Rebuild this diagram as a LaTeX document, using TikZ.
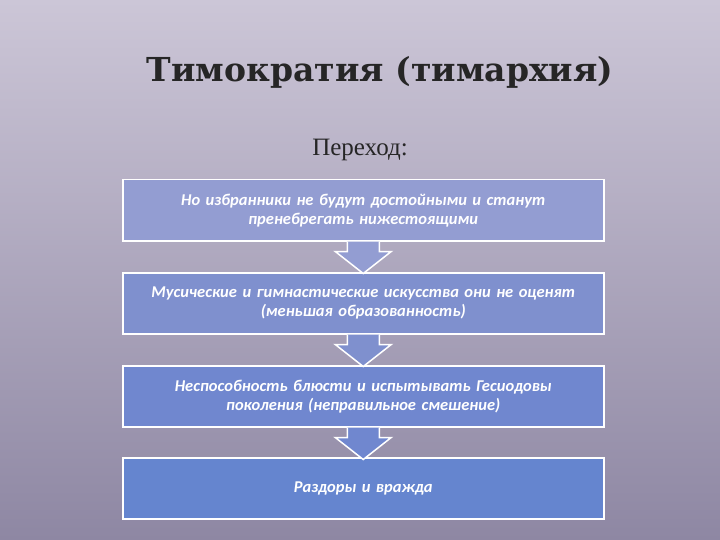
\documentclass[tikz,border=0pt]{standalone}
\usepackage{fontspec}
\setmainfont{Carlito}
\newfontfamily\titlefont{DejaVu Serif}
\newfontfamily\subfont{Liberation Serif}
\definecolor{bgtop}{HTML}{CCC6D7}
\definecolor{bgbot}{HTML}{8E87A3}
\definecolor{bxa}{HTML}{939DD2}
\definecolor{bxb}{HTML}{7F90CE}
\definecolor{bxc}{HTML}{7087CF}
\definecolor{bxd}{HTML}{6585CF}
\begin{document}
\begin{tikzpicture}[x=1pt,y=-1pt,
  box/.style={draw=white,line width=1.5pt,fill=#1,minimum width=481pt,minimum height=61pt,anchor=north west,inner sep=0pt},
  btext/.style={text=white,font=\bfseries\itshape\fontsize{16.5}{19}\selectfont,align=center,text width=478pt},
  barrow/.style={draw=white,line width=1.5pt,fill=#1}]
\useasboundingbox (0,0) rectangle (720,540);
\shade[top color=bgtop,bottom color=bgbot] (0,0) rectangle (720,540);
\node (title) [text=black!85,font=\titlefont\bfseries\fontsize{33}{37}\selectfont] at (380,72) {Тимократия (тимархия)};
\node (sub) [text=black!85,font=\subfont\fontsize{25}{29}\selectfont] at (360,150) {Переход:};
\node (b1) [box=bxa] at (122,179) {};
\node (b2) [box=bxb] at (122,272) {};
\node (b3) [box=bxc] at (122,365) {};
\node (b4) [box=bxd] at (122,457) {};
\foreach \n/\c in {b1/bxa,b2/bxb,b3/bxc}{
  \path (\n.south) coordinate (s);
  \draw[barrow=\c] ([xshift=-16]s) -- ++(0,10) -- ++(-12,0) -- ++(28,22) -- ++(28,-22) -- ++(-12,0) -- ++(0,-10);
}
\node[btext] at (b1.center) {Но избранники не будут достойными и станут\\пренебрегать нижестоящими};
\node[btext] at (b2.center) {Мусические и гимнастические искусства они не оценят\\(меньшая образованность)};
\node[btext] at (b3.center) {Неспособность блюсти и испытывать Гесиодовы\\поколения (неправильное смешение)};
\node[btext] at (b4.center) {Раздоры и вражда};
\end{tikzpicture}
\end{document}
